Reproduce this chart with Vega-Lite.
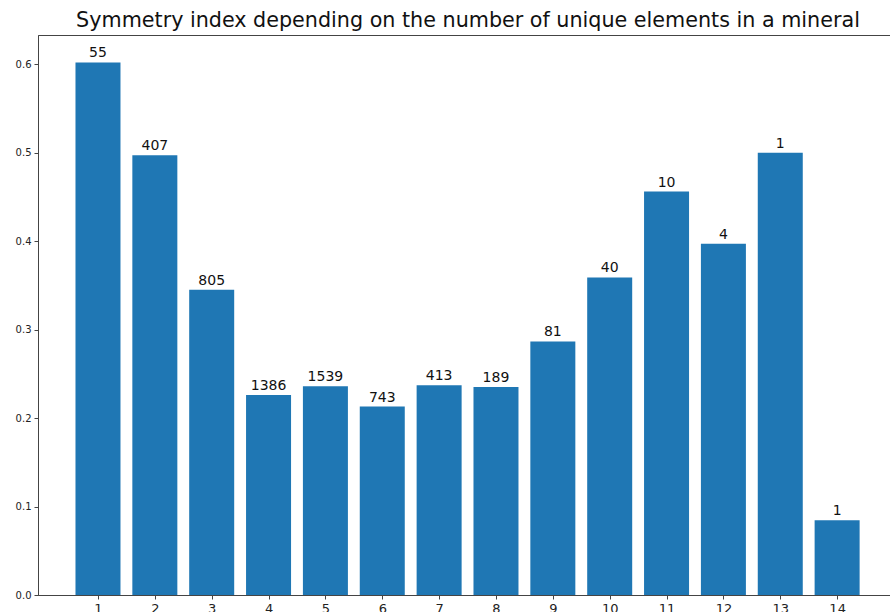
{
  "$schema": "https://vega.github.io/schema/vega-lite/v6.json",
  "autosize": "none",
  "padding": {"left": 38, "top": 35, "right": 0, "bottom": 17},
  "width": 852,
  "height": 560,
  "background": "white",
  "title": {
    "text": "Symmetry index depending on the number of unique elements in a mineral",
    "font": "DejaVu Sans",
    "fontSize": 20.7,
    "fontWeight": "normal",
    "color": "#111111",
    "anchor": "middle",
    "dx": 4,
    "offset": 3
  },
  "config": {
    "view": {"stroke": "#444444", "strokeWidth": 1},
    "axis": {
      "domainColor": "#444444",
      "tickColor": "#444444",
      "tickSize": 4,
      "labelFont": "DejaVu Sans",
      "labelColor": "#222222",
      "grid": false,
      "title": null
    }
  },
  "data": {
    "values": [
      {"elements": 1, "symmetry": 0.602, "count": 55},
      {"elements": 2, "symmetry": 0.497, "count": 407},
      {"elements": 3, "symmetry": 0.345, "count": 805},
      {"elements": 4, "symmetry": 0.226, "count": 1386},
      {"elements": 5, "symmetry": 0.236, "count": 1539},
      {"elements": 6, "symmetry": 0.213, "count": 743},
      {"elements": 7, "symmetry": 0.237, "count": 413},
      {"elements": 8, "symmetry": 0.235, "count": 189},
      {"elements": 9, "symmetry": 0.2866, "count": 81},
      {"elements": 10, "symmetry": 0.359, "count": 40},
      {"elements": 11, "symmetry": 0.456, "count": 10},
      {"elements": 12, "symmetry": 0.397, "count": 4},
      {"elements": 13, "symmetry": 0.5, "count": 1},
      {"elements": 14, "symmetry": 0.0846, "count": 1}
    ]
  },
  "encoding": {
    "x": {
      "field": "elements",
      "type": "quantitative",
      "scale": {"domain": [-0.055, 14.93], "nice": false, "zero": false, "padding": 0},
      "axis": {"values": [1, 2, 3, 4, 5, 6, 7, 8, 9, 10, 11, 12, 13, 14], "labelFontSize": 13, "labelPadding": 3, "labelFlush": false}
    },
    "y": {
      "field": "symmetry",
      "type": "quantitative",
      "scale": {"domain": [0, 0.633], "nice": false},
      "axis": {"values": [0, 0.1, 0.2, 0.3, 0.4, 0.5, 0.6], "format": ".1f", "labelFontSize": 10, "labelPadding": 3}
    }
  },
  "layer": [
    {
      "mark": {"type": "bar", "width": 45, "color": "#1f77b4"}
    },
    {
      "mark": {"type": "text", "baseline": "bottom", "dy": -2, "font": "DejaVu Sans", "fontSize": 14, "color": "#111111"},
      "encoding": {"text": {"field": "count", "type": "quantitative"}}
    }
  ]
}
